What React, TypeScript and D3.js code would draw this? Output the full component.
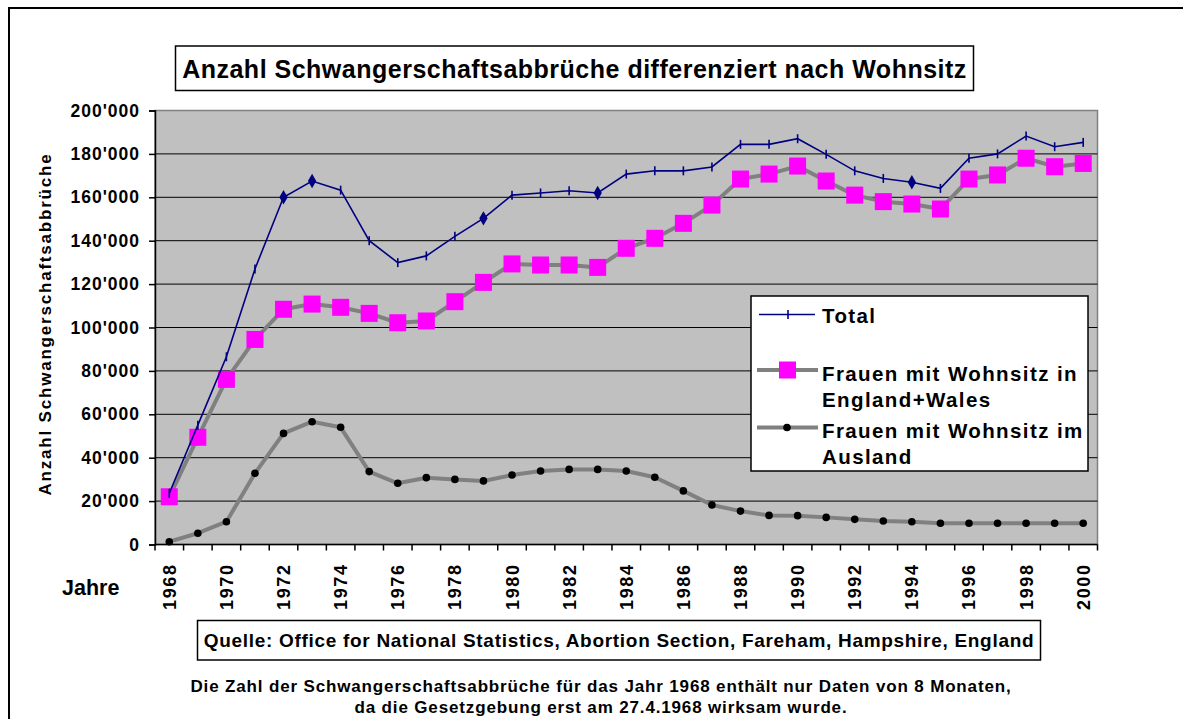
import React, { useEffect, useRef } from 'react';
import * as d3 from 'd3';

const years = d3.range(1968, 2001);
const total = [23.6, 55, 86.5, 127, 160, 167.5, 163.3, 140, 129.9, 133, 142, 150.3, 161, 162, 163, 162, 170.7, 172.2, 172.2, 174, 184.4, 184.4, 187, 179.8, 172.2, 168.7, 166.9, 164.1, 178, 180, 188.2, 183.3, 185.3];
const englandWales = [22, 49.4, 76.1, 94.5, 108.4, 110.8, 109.3, 106.5, 102.2, 103, 111.9, 120.8, 129.3, 128.8, 128.8, 127.7, 136.5, 141.1, 148, 156.4, 168.4, 170.7, 174.4, 167.5, 161, 158, 156.9, 154.6, 168.4, 170.3, 178, 174.1, 175.6];
const ausland = [1.3, 5.2, 10.5, 32.8, 51.2, 56.6, 54, 33.6, 28.2, 30.8, 30, 29.3, 32, 33.9, 34.6, 34.6, 33.9, 31, 24.7, 18.2, 15.4, 13.4, 13.3, 12.5, 11.6, 10.8, 10.5, 9.8, 9.8, 9.8, 9.8, 9.8, 9.8];
const totalDiamondYears = [1972, 1973, 1979, 1983, 1994];
const yTicks = [0, 20, 40, 60, 80, 100, 120, 140, 160, 180, 200];

const title = 'Anzahl Schwangerschaftsabbrüche differenziert nach Wohnsitz';
const yTitle = 'Anzahl Schwangerschaftsabbrüche';
const xTitle = 'Jahre';
const source = 'Quelle: Office for National Statistics, Abortion Section, Fareham, Hampshire, England';
const note1 = 'Die Zahl der Schwangerschaftsabbrüche für das Jahr 1968 enthält nur Daten von 8 Monaten,';
const note2 = 'da die Gesetzgebung erst am 27.4.1968 wirksam wurde.';
const legendLabels = [['Total'], ['Frauen mit Wohnsitz in', 'England+Wales'], ['Frauen mit Wohnsitz im', 'Ausland']];

const W = 1183;
const H = 719;
const FONT = 'Arial, "Liberation Sans", Helvetica, sans-serif';

const fmt = (v: number) => (v === 0 ? '0' : `${v}'000`);

const App = () => {
  const ref = useRef<SVGSVGElement>(null);

  useEffect(() => {
    const svg = d3.select(ref.current);
    svg.selectAll('*').remove();
    svg.style('font-family', FONT).style('font-weight', 'bold');

    const left = 155, right = 1097.5, top = 110.5, bottom = 544.5;

    // outer chart border
    svg.append('rect').attr('x', 9).attr('y', 8).attr('width', W + 20).attr('height', H + 20)
      .attr('fill', 'white').attr('stroke', 'black').attr('stroke-width', 2);

    const x = d3.scaleBand<number>().domain(years).range([left, right]);
    const cx = (yr: number) => (x(yr) as number) + x.bandwidth() / 2;
    const y = d3.scaleLinear().domain([0, 200]).range([bottom, top]);

    // plot area
    svg.append('rect').attr('x', left).attr('y', top).attr('width', right - left).attr('height', bottom - top)
      .attr('fill', '#C0C0C0').attr('stroke', '#808080').attr('stroke-width', 1.5);

    svg.append('g').selectAll('line').data(yTicks.filter(t => t > 0 && t < 200)).enter().append('line')
      .attr('x1', left).attr('x2', right).attr('y1', d => y(d)).attr('y2', d => y(d))
      .attr('stroke', 'black').attr('stroke-width', 1);

    // y axis
    const yAxis = svg.append('g').attr('transform', `translate(${left},0)`)
      .call(d3.axisLeft(y).tickValues(yTicks).tickFormat(d => fmt(d as number)).tickSize(6).tickPadding(9));
    yAxis.select('.domain').attr('stroke', 'black').attr('stroke-width', 1.5);
    yAxis.selectAll('line').attr('stroke', 'black').attr('stroke-width', 1.5);
    yAxis.selectAll('text').attr('font-size', 17.5).attr('letter-spacing', 1).attr('font-family', FONT)
      .attr('font-weight', 'bold').attr('fill', 'black');

    // x axis: ticks between categories
    svg.append('line').attr('x1', left).attr('x2', right).attr('y1', bottom).attr('y2', bottom)
      .attr('stroke', 'black').attr('stroke-width', 1.5);
    const boundaries = years.map(yr => x(yr) as number).concat([right]);
    svg.append('g').selectAll('line').data(boundaries).enter().append('line')
      .attr('x1', d => d).attr('x2', d => d).attr('y1', bottom).attr('y2', bottom + 6)
      .attr('stroke', 'black').attr('stroke-width', 1.5);
    svg.append('g').selectAll('text').data(years.filter(yr => yr % 2 === 0)).enter().append('text')
      .attr('transform', d => `translate(${cx(d) + 6.5},${bottom + 19}) rotate(-90)`)
      .attr('text-anchor', 'end').attr('font-size', 18).attr('letter-spacing', 1.6).text(d => String(d));

    svg.append('text').attr('x', 62).attr('y', 595).attr('font-size', 21.5).text(xTitle);
    svg.append('text').attr('transform', `translate(51,324) rotate(-90)`).attr('text-anchor', 'middle')
      .attr('font-size', 17).attr('letter-spacing', 1.8).text(yTitle);

    const line = (vals: number[]) => d3.line<number>().x((_, i) => cx(years[i])).y(d => y(d))(vals);

    // Ausland
    svg.append('path').attr('d', line(ausland)).attr('fill', 'none').attr('stroke', '#808080')
      .attr('stroke-width', 4).attr('stroke-linejoin', 'round');
    svg.append('g').selectAll('circle').data(ausland).enter().append('circle')
      .attr('cx', (_, i) => cx(years[i])).attr('cy', d => y(d)).attr('r', 3.8).attr('fill', 'black');

    // England + Wales
    svg.append('path').attr('d', line(englandWales)).attr('fill', 'none').attr('stroke', '#808080')
      .attr('stroke-width', 4).attr('stroke-linejoin', 'round');
    svg.append('g').selectAll('rect').data(englandWales).enter().append('rect')
      .attr('x', (_, i) => cx(years[i]) - 8.5).attr('y', d => y(d) - 8.5).attr('width', 17).attr('height', 17)
      .attr('fill', '#FF00FF');

    // Total
    svg.append('path').attr('d', line(total)).attr('fill', 'none').attr('stroke', '#000080').attr('stroke-width', 1.6);
    svg.append('g').selectAll('line').data(total).enter().append('line')
      .attr('x1', (_, i) => cx(years[i])).attr('x2', (_, i) => cx(years[i]))
      .attr('y1', d => y(d) - 4.5).attr('y2', d => y(d) + 4.5).attr('stroke', '#000080').attr('stroke-width', 1.6);
    svg.append('g').selectAll('path.dia').data(total.map((v, i) => ({ v, yr: years[i] })).filter(d => totalDiamondYears.includes(d.yr)))
      .enter().append('path')
      .attr('d', d3.symbol().type(d3.symbolDiamond).size(60)())
      .attr('transform', d => `translate(${cx(d.yr)},${y(d.v)})`).attr('fill', '#000080');

    // legend
    const lg = svg.append('g');
    lg.append('rect').attr('x', 751).attr('y', 296).attr('width', 337).attr('height', 175)
      .attr('fill', 'white').attr('stroke', 'black').attr('stroke-width', 1.5);
    const ly = [314.5, 370, 427.5];
    lg.append('line').attr('x1', 759).attr('x2', 815).attr('y1', ly[0]).attr('y2', ly[0]).attr('stroke', '#000080').attr('stroke-width', 1.6);
    lg.append('line').attr('x1', 788).attr('x2', 788).attr('y1', ly[0] - 4.5).attr('y2', ly[0] + 4.5).attr('stroke', '#000080').attr('stroke-width', 1.6);
    lg.append('line').attr('x1', 757).attr('x2', 818).attr('y1', ly[1]).attr('y2', ly[1]).attr('stroke', '#808080').attr('stroke-width', 4);
    lg.append('rect').attr('x', 779).attr('y', ly[1] - 8.5).attr('width', 17).attr('height', 17).attr('fill', '#FF00FF');
    lg.append('line').attr('x1', 757).attr('x2', 818).attr('y1', ly[2]).attr('y2', ly[2]).attr('stroke', '#808080').attr('stroke-width', 4);
    lg.append('circle').attr('cx', 787).attr('cy', ly[2]).attr('r', 3.8).attr('fill', 'black');
    const baselines = [[323], [381, 407], [438, 464]];
    legendLabels.forEach((lines, i) => {
      lines.forEach((t, j) => {
        lg.append('text').attr('x', 822).attr('y', baselines[i][j]).attr('font-size', 20.5)
          .attr('letter-spacing', 1.4).text(t);
      });
    });

    // title box
    svg.append('rect').attr('x', 175.5).attr('y', 46).attr('width', 798).attr('height', 44.5)
      .attr('fill', 'white').attr('stroke', 'black').attr('stroke-width', 1.5);
    svg.append('text').attr('x', 574.5).attr('y', 78).attr('text-anchor', 'middle').attr('font-size', 25)
      .attr('letter-spacing', 0.5).text(title);

    // source box
    svg.append('rect').attr('x', 197.5).attr('y', 620.5).attr('width', 843).attr('height', 39.5)
      .attr('fill', 'white').attr('stroke', 'black').attr('stroke-width', 1.5);
    svg.append('text').attr('x', 619).attr('y', 647).attr('text-anchor', 'middle').attr('font-size', 19)
      .attr('letter-spacing', 0.7).text(source);

    svg.append('text').attr('x', 601).attr('y', 692).attr('text-anchor', 'middle').attr('font-size', 17)
      .attr('letter-spacing', 0.85).text(note1);
    svg.append('text').attr('x', 601).attr('y', 713).attr('text-anchor', 'middle').attr('font-size', 17)
      .attr('letter-spacing', 0.85).text(note2);
  }, []);

  return (
    <svg ref={ref} width={W} height={H} style={{ position: 'absolute', left: 0, top: 0, background: 'white' }} />
  );
};

export default App;
